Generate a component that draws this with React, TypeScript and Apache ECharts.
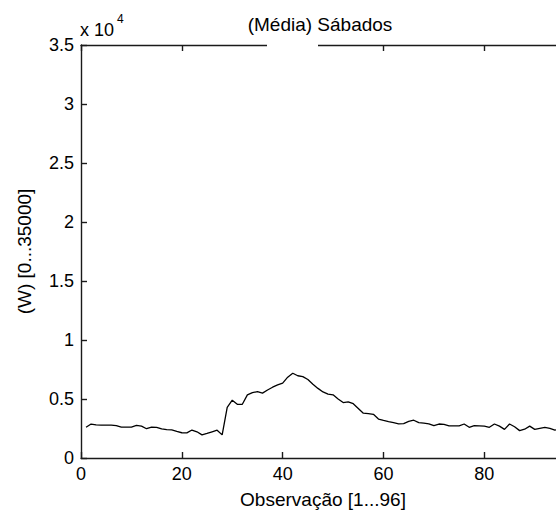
import React, { useEffect, useRef } from "react";
import * as echarts from "echarts";

const titleText = "(Média) Sábados";
const xAxisName = "Observação [1...96]";
const yAxisName = "(W) [0...35000]";
const xTicks = [0, 20, 40, 60, 80];
const yTickLabels = ["0", "0.5", "1", "1.5", "2", "2.5", "3", "3.5"];

// Mean power (W) per observation, Saturdays (observations 1..96)
const powerW = [
  2600, 2880, 2800, 2780, 2780, 2780, 2750, 2620, 2620, 2620,
  2760, 2700, 2480, 2620, 2600, 2460, 2400, 2380, 2250, 2140,
  2130, 2370, 2220, 1960, 2080, 2220, 2360, 1960, 4300, 4900,
  4550, 4550, 5350, 5540, 5620, 5500, 5760, 6000, 6200, 6350,
  6850, 7180, 6970, 6900, 6650, 6250, 5900, 5600, 5420, 5350,
  5000, 4700, 4760, 4600, 4200, 3800, 3760, 3700, 3300, 3180,
  3080, 3000, 2900, 2920, 3100, 3200, 3000, 2960, 2900, 2750,
  2880, 2850, 2720, 2720, 2720, 2880, 2600, 2740, 2720, 2700,
  2600, 2880, 2700, 2430, 2880, 2650, 2320, 2440, 2700, 2430,
  2520, 2600, 2520, 2370, 2400, 2350,
];

const FONT = "'Liberation Sans', Arial, Helvetica, sans-serif";
const AX = "#1a1a1a";

export default function App() {
  const ref = useRef<HTMLDivElement>(null);
  useEffect(() => {
    if (!ref.current) return;
    const chart = echarts.init(ref.current, null, { renderer: "svg" });
    const data = powerW.map((v, i) => [i + 1, v]);
    chart.setOption({
      animation: false,
      backgroundColor: "#ffffff",
      grid: { left: 81, top: 45, width: 484, height: 413 },
      xAxis: [
        {
          type: "value",
          position: "bottom",
          min: 0,
          max: 96,
          interval: 20,
          name: xAxisName,
          nameLocation: "middle",
          nameGap: 32,
          nameTextStyle: { color: "#000", fontFamily: FONT, fontSize: 19 },
          axisLine: { show: true, lineStyle: { color: AX, width: 1.4 } },
          axisTick: { show: true, inside: true, length: 6, lineStyle: { color: AX, width: 1.4 } },
          axisLabel: {
            color: "#000",
            fontFamily: FONT,
            fontSize: 18,
            margin: 7,
            showMaxLabel: false,
            formatter: (v: number) => (xTicks.includes(v) ? String(v) : ""),
          },
          splitLine: { show: false },
        },
        {
          type: "value",
          position: "top",
          min: 0,
          max: 96,
          interval: 20,
          axisLine: { show: true, lineStyle: { color: AX, width: 1.4 } },
          axisTick: { show: true, inside: true, length: 6, lineStyle: { color: AX, width: 1.4 } },
          axisLabel: { show: false },
          splitLine: { show: false },
        },
      ],
      yAxis: {
        type: "value",
        min: 0,
        max: 35000,
        interval: 5000,
        name: yAxisName,
        nameLocation: "middle",
        nameGap: 47,
        nameTextStyle: { color: "#000", fontFamily: FONT, fontSize: 19 },
        axisLine: { show: true, lineStyle: { color: AX, width: 1.4 } },
        axisTick: { show: true, inside: true, length: 6, lineStyle: { color: AX, width: 1.4 } },
        axisLabel: {
          color: "#000",
          fontFamily: FONT,
          fontSize: 18,
          margin: 7,
          formatter: (v: number) => yTickLabels[Math.round(v / 5000)] ?? "",
        },
        splitLine: { show: false },
      },
      graphic: [
        {
          type: "rect",
          z: 100,
          shape: { x: 267, y: 40, width: 51, height: 14 },
          style: { fill: "#ffffff" },
        },
        {
          type: "text",
          z: 101,
          x: 320,
          y: 24,
          style: {
            text: titleText,
            fill: "#000",
            font: `19px ${FONT}`,
            align: "center",
            verticalAlign: "middle",
          },
        },
        {
          type: "text",
          z: 101,
          x: 80,
          y: 39,
          style: {
            text: "x 10",
            fill: "#000",
            font: `18px ${FONT}`,
            align: "left",
            verticalAlign: "bottom",
          },
        },
        {
          type: "text",
          z: 101,
          x: 117,
          y: 25,
          style: {
            text: "4",
            fill: "#000",
            font: `12px ${FONT}`,
            align: "left",
            verticalAlign: "bottom",
          },
        },
      ],
      series: [
        {
          type: "line",
          xAxisIndex: 0,
          data,
          showSymbol: false,
          lineStyle: { color: "#000", width: 1.3 },
          itemStyle: { color: "#000" },
        },
      ],
    });
    return () => chart.dispose();
  }, []);
  return (
    <div
      style={{
        position: "fixed",
        left: 0,
        top: 0,
        width: 556,
        height: 516,
        overflow: "hidden",
        background: "#fff",
      }}
    >
      <div ref={ref} style={{ width: 600, height: 516 }} />
    </div>
  );
}
